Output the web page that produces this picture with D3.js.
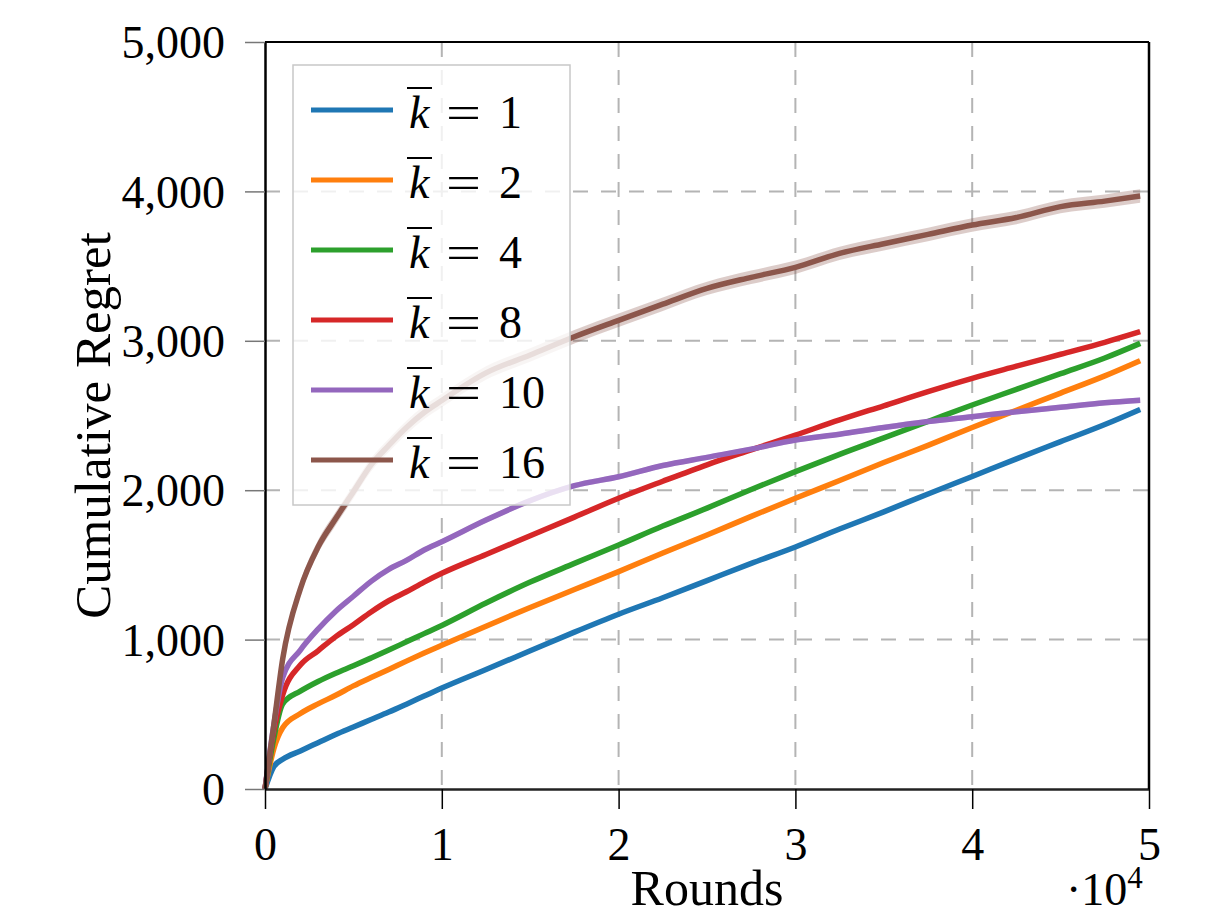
<!DOCTYPE html>
<html>
<head>
<meta charset="utf-8">
<script src="https://cdn.jsdelivr.net/npm/d3@7"></script>
<style>
  html, body { margin: 0; padding: 0; background: #fff; }
  svg { display: block; }
  text { font-family: "Liberation Serif", "DejaVu Serif", serif; fill: #000; }
</style>
</head>
<body>
<svg id="chart" width="1222" height="917"></svg>
<script>
// ---------------- data ----------------
const rounds = [0, 500, 1000, 2000, 3000, 4000, 5000, 6000, 7000, 8000, 9000, 10000,
  12500, 15000, 17500, 20000, 22500, 25000, 27500, 30000, 32500, 35000, 37500,
  40000, 42500, 45000, 47500, 49500];

const kLabels = ["1", "2", "4", "8", "10", "16"];

const regretK1 = [0, 150, 199, 255, 310, 365, 415, 465, 515, 568, 622, 676,
  800, 925, 1050, 1170, 1280, 1395, 1510, 1620, 1740, 1855, 1975,
  2092, 2210, 2325, 2440, 2541];
const regretK2 = [0, 270, 410, 505, 570, 627, 690, 746, 800, 856, 910, 962,
  1090, 1215, 1335, 1455, 1580, 1700, 1825, 1946, 2065, 2185, 2300,
  2420, 2535, 2650, 2765, 2867];
const regretK4 = [0, 340, 570, 655, 720, 775, 825, 877, 930, 985, 1040, 1095,
  1245, 1385, 1510, 1633, 1760, 1880, 2005, 2124, 2240, 2350, 2460,
  2570, 2675, 2780, 2885, 2983];
const regretK8 = [0, 390, 630, 830, 925, 1020, 1100, 1185, 1260, 1320, 1385, 1444,
  1570, 1695, 1820, 1946, 2060, 2170, 2270, 2369, 2470, 2565, 2660,
  2749, 2830, 2910, 2990, 3061];
const regretK10 = [0, 430, 745, 930, 1070, 1190, 1290, 1390, 1470, 1530, 1600, 1655,
  1800, 1930, 2030, 2090, 2165, 2220, 2275, 2336, 2375, 2420, 2460,
  2492, 2525, 2555, 2585, 2602];
const regretK16 = [0, 430, 870, 1340, 1620, 1810, 1990, 2170, 2300, 2420, 2520, 2600,
  2785, 2905, 3027, 3137, 3245, 3351, 3425, 3492, 3585, 3650, 3712,
  3775, 3825, 3898, 3935, 3969];

// half-width of the shaded spread band for each series
const spread = [6, 6, 6, 8, 18, 45];

const colors = ["#1f77b4", "#ff7f0e", "#2ca02c", "#d62728", "#9467bd", "#8c564b"];

const xTicks = [0, 10000, 20000, 30000, 40000, 50000];
const xTickLabels = ["0", "1", "2", "3", "4", "5"];
const yTicks = [0, 1000, 2000, 3000, 4000, 5000];
const yTickLabels = ["0", "1,000", "2,000", "3,000", "4,000", "5,000"];

const xLabel = "Rounds";
const yLabel = "Cumulative Regret";

const allSeries = [regretK1, regretK2, regretK4, regretK8, regretK10, regretK16];

// ---------------- layout ----------------
const svg = d3.select("#chart");
const L = 265, T = 42, R = 1149, B = 789;

const x = d3.scaleLinear().domain([0, 50000]).range([L, R]);
const y = d3.scaleLinear().domain([0, 5000]).range([B, T]);

// grid
const grid = svg.append("g");
grid.selectAll("line.gx").data(xTicks.slice(1, -1)).enter().append("line")
  .attr("x1", d => x(d)).attr("x2", d => x(d)).attr("y1", T).attr("y2", B)
  .attr("stroke", "#b4b4b4").attr("stroke-width", 2).attr("stroke-dasharray", "15,13");
grid.selectAll("line.gy").data(yTicks.slice(1, -1)).enter().append("line")
  .attr("y1", d => y(d)).attr("y2", d => y(d)).attr("x1", L).attr("x2", R)
  .attr("stroke", "#b4b4b4").attr("stroke-width", 2).attr("stroke-dasharray", "15,13");

// bands and lines
const area = d3.area().curve(d3.curveMonotoneX)
  .x(d => x(d[0])).y0(d => y(Math.max(0, d[1] - d[2]))).y1(d => y(d[1] + d[2]));
const line = d3.line().curve(d3.curveMonotoneX).x(d => x(d[0])).y(d => y(d[1]));

allSeries.forEach((vals, i) => {
  const pts = rounds.map((r, j) => [r, vals[j], j === 0 ? 0 : spread[i]]);
  svg.append("path").attr("d", area(pts))
    .attr("fill", colors[i]).attr("fill-opacity", 0.3).attr("stroke", "none");
});
allSeries.forEach((vals, i) => {
  const pts = rounds.map((r, j) => [r, vals[j]]);
  svg.append("path").attr("d", line(pts))
    .attr("fill", "none").attr("stroke", colors[i]).attr("stroke-width", 5.5)
    .attr("stroke-linejoin", "round").attr("stroke-linecap", "butt");
});

// axes
const xAxis = d3.axisBottom(x).tickValues(xTicks).tickFormat((d, i) => xTickLabels[i])
  .tickSizeInner(20).tickSizeOuter(0).tickPadding(18);
const gx = svg.append("g").attr("transform", `translate(0,${B})`).call(xAxis);
gx.select(".domain").attr("stroke", "#222").attr("stroke-width", 2.5);
gx.selectAll(".tick line").attr("stroke", "#000").attr("stroke-width", 1.5);
gx.selectAll(".tick text").style("font-size", "46px").style("font-family", "Liberation Serif")
  .attr("fill", "#000");

const yAxis = d3.axisLeft(y).tickValues(yTicks).tickFormat((d, i) => yTickLabels[i])
  .tickSizeInner(20).tickSizeOuter(0).tickPadding(20);
const gy = svg.append("g").attr("transform", `translate(${L},0)`).call(yAxis);
gy.select(".domain").attr("stroke", "#000").attr("stroke-width", 2.5);
gy.selectAll(".tick line").attr("stroke", "#777").attr("stroke-width", 1.5);
gy.selectAll(".tick text").style("font-size", "46px").style("font-family", "Liberation Serif")
  .attr("fill", "#000").attr("dy", "0.34em");

// top and right frame
svg.append("line").attr("x1", L).attr("x2", R).attr("y1", T).attr("y2", T)
  .attr("stroke", "#000").attr("stroke-width", 2);
svg.append("line").attr("x1", R).attr("x2", R).attr("y1", T).attr("y2", B)
  .attr("stroke", "#000").attr("stroke-width", 2.5);

// axis labels
svg.append("text").attr("x", (L + R) / 2).attr("y", 905)
  .attr("text-anchor", "middle").style("font-size", "50px").text(xLabel);
svg.append("text").attr("transform", `translate(110,${(T + B) / 2 + 10}) rotate(-90)`)
  .attr("text-anchor", "middle").style("font-size", "51px").text(yLabel);

// ·10^4 multiplier
const mult = svg.append("text").attr("x", 1066).attr("y", 905).style("font-size", "46px");
mult.append("tspan").text("·10");
mult.append("tspan").attr("dy", -17).style("font-size", "31px").text("4");

// legend
const lg = svg.append("g");
lg.append("rect").attr("x", 293).attr("y", 65).attr("width", 277).attr("height", 440)
  .attr("fill", "#fff").attr("fill-opacity", 0.8).attr("stroke", "#c8c8c8").attr("stroke-width", 1.5);
kLabels.forEach((k, i) => {
  const cy = 110 + i * 70;
  lg.append("line").attr("x1", 311).attr("x2", 393).attr("y1", cy).attr("y2", cy)
    .attr("stroke", colors[i]).attr("stroke-width", 5);
  const base = cy + 18;
  lg.append("text").attr("x", 409).attr("y", base).style("font-size", "46px")
    .style("font-style", "italic").text("k");
  lg.append("line").attr("x1", 407).attr("x2", 432).attr("y1", cy - 22).attr("y2", cy - 22)
    .attr("stroke", "#000").attr("stroke-width", 2);
  lg.append("text").attr("x", 446).attr("y", base).style("font-size", "46px")
    .attr("textLength", 35).attr("lengthAdjust", "spacingAndGlyphs").text("=");
  lg.append("text").attr("x", 499).attr("y", base).style("font-size", "46px").text(k);
});
</script>
</body>
</html>
